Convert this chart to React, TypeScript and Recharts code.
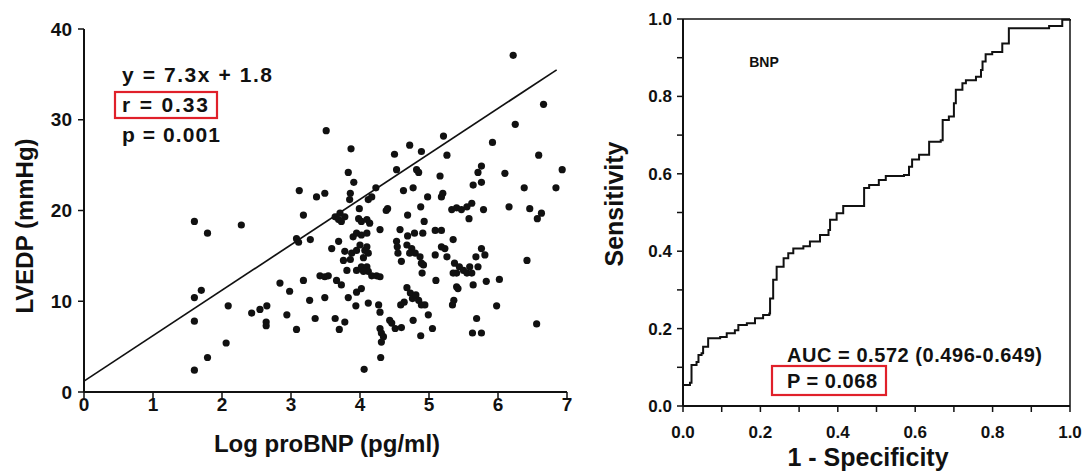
import {
  ScatterChart,
  Scatter,
  LineChart,
  Line,
  XAxis,
  YAxis,
  ReferenceLine,
} from 'recharts'

// Left panel: Log proBNP vs LVEDP (one entry per patient)
const LOG_PROBNP = [
  1.60, 1.79, 2.28, 1.70, 1.60, 2.09, 1.60, 2.06, 1.79, 1.60, 2.43, 2.55, 2.65, 2.64, 2.64,
  3.08, 3.11, 3.28, 3.12,
  3.59, 3.69, 3.78, 3.76, 3.88, 3.95, 4.00, 4.07, 4.12, 4.10, 3.81, 3.95, 4.02, 4.10, 4.12,
  4.05, 4.17, 4.24, 4.29, 3.42, 3.49, 3.54, 3.18, 3.66, 3.73, 2.84, 2.98, 3.95, 4.02, 3.83,
  3.27, 3.49, 3.94, 4.12, 4.27, 4.29, 2.94, 3.35, 3.64, 3.78, 3.70, 3.08, 4.29, 4.31, 4.34,
  4.31, 4.43, 4.51, 4.60, 4.46, 4.77, 4.30, 4.06, 3.86, 4.05,
  4.53, 4.54, 4.55, 4.60, 4.68, 4.75, 4.80, 4.72, 4.87, 4.89,
  4.68, 4.73, 4.76, 4.81, 4.59, 4.64, 4.85, 4.89, 4.94,
  6.22, 3.51, 6.66, 6.25, 5.21, 3.87, 4.72, 5.92, 4.89, 4.50, 5.26, 6.59, 4.53, 4.82, 4.85,
  3.83, 5.16, 5.76, 5.71, 6.10, 6.93, 3.91, 5.64, 5.76, 4.63, 4.77, 4.23, 6.38, 6.84, 3.37,
  3.49, 3.86, 3.85, 4.12, 4.17, 4.98, 5.18, 5.20, 4.40, 4.38, 3.99, 4.88, 4.69, 5.33, 5.40,
  5.47, 5.55, 5.62, 5.79, 6.16, 6.46, 6.63, 6.57, 5.58, 3.18, 3.64, 3.71, 3.69, 3.78, 3.73,
  3.98, 4.02, 4.10, 4.14, 4.29, 4.58, 4.69, 4.79, 4.93, 4.91, 5.09, 5.18, 5.35, 3.90, 3.95,
  4.02, 4.10,
  5.09, 5.18, 5.23, 5.26, 5.37, 5.44, 5.40, 5.50, 5.55, 5.59, 5.62, 5.71, 5.76, 5.81, 5.68,
  5.40, 6.42, 5.64, 5.83, 6.02, 5.10, 4.90, 5.36, 5.34, 5.42, 5.98, 4.99, 4.88, 5.05, 5.69,
  5.63, 5.76, 6.56, 5.35, 4.92,
]
const LVEDP = [
  18.8, 17.5, 18.4, 11.2, 10.4, 9.5, 7.8, 5.4, 3.8, 2.4, 8.7, 9.1, 9.5, 7.7, 7.3,
  16.9, 16.5, 16.8, 22.2,
  15.8, 16.6, 15.5, 14.5, 15.3, 15.6, 16.2, 15.6, 15.3, 16.0, 13.4, 13.4, 13.8, 13.8, 13.3,
  13.3, 12.8, 12.8, 12.7, 12.8, 12.7, 12.8, 12.3, 12.3, 11.8, 12.0, 11.1, 11.0, 11.4, 10.4,
  10.1, 10.4, 9.5, 9.8, 9.6, 8.8, 8.5, 8.1, 8.1, 7.7, 6.9, 6.9, 7.0, 6.5, 6.1,
  5.5, 7.9, 7.0, 7.1, 7.6, 7.9, 3.8, 2.5, 14.6, 14.8,
  16.6, 16.0, 15.3, 14.4, 16.2, 15.8, 15.3, 15.3, 14.9, 14.2,
  11.5, 10.9, 10.3, 10.7, 9.6, 9.9, 10.1, 9.6, 9.6,
  37.1, 28.8, 31.7, 29.5, 28.2, 26.8, 27.2, 27.5, 26.5, 26.2, 26.1, 26.1, 24.5, 24.5, 24.2,
  24.2, 23.8, 24.9, 24.2, 24.1, 24.5, 23.1, 22.8, 23.1, 22.2, 22.5, 22.5, 22.5, 22.5, 21.5,
  21.9, 21.9, 21.2, 21.2, 21.5, 21.5, 21.5, 21.9, 20.2, 20.0, 20.2, 20.4, 19.5, 20.1, 20.3,
  20.1, 20.4, 20.8, 20.1, 20.4, 20.2, 19.7, 19.1, 19.1, 19.5, 19.3, 19.7, 19.0, 19.3, 18.8,
  19.1, 18.8, 19.0, 18.6, 17.9, 17.9, 17.2, 17.5, 18.8, 17.5, 17.8, 17.8, 16.8, 17.1, 17.5,
  17.3, 17.5,
  15.1, 16.0, 15.8, 14.9, 14.2, 13.8, 13.1, 13.4, 13.1, 13.8, 13.1, 13.8, 15.8, 15.1, 14.9,
  11.6, 14.5, 11.8, 12.2, 12.4, 12.3, 13.1, 10.1, 9.6, 11.4, 9.5, 8.5, 6.2, 7.0, 8.1,
  6.5, 6.5, 7.5, 13.1, 14.0,
]

// Fitted line as drawn (end points)
const FIT_X = [0, 6.85]
const FIT_Y = [1.2, 35.5]

const X_TICKS = [0, 1, 2, 3, 4, 5, 6, 7]
const Y_TICKS = [0, 10, 20, 30, 40]

// Right panel: ROC curve for BNP
const FPR = [
  0, 0.018, 0.022, 0.035, 0.040, 0.048, 0.052, 0.065, 0.096, 0.113, 0.134, 0.143, 0.165, 0.186,
  0.207, 0.223, 0.225, 0.233, 0.233, 0.242, 0.258, 0.26, 0.272, 0.285, 0.311, 0.328, 0.354,
  0.376, 0.380, 0.397, 0.414, 0.465, 0.468, 0.481, 0.506, 0.524, 0.571, 0.584, 0.592, 0.610,
  0.636, 0.636, 0.666, 0.671, 0.687, 0.700, 0.705, 0.722, 0.731, 0.757, 0.770, 0.774, 0.782,
  0.799, 0.825, 0.842, 0.842, 0.928, 0.946, 0.980, 1.0,
]
const TPR = [
  0.054, 0.06, 0.106, 0.114, 0.132, 0.136, 0.153, 0.175, 0.178, 0.188, 0.196, 0.209, 0.214,
  0.227, 0.235, 0.239, 0.278, 0.291, 0.326, 0.360, 0.360, 0.382, 0.395, 0.407, 0.413, 0.425,
  0.442, 0.455, 0.481, 0.498, 0.517, 0.517, 0.563, 0.571, 0.584, 0.594, 0.597, 0.618, 0.637,
  0.649, 0.663, 0.683, 0.687, 0.739, 0.748, 0.782, 0.817, 0.834, 0.842, 0.851, 0.868, 0.890,
  0.909, 0.915, 0.937, 0.941, 0.976, 0.976, 0.982, 0.998, 1.0,
]
const ROC_TICKS = [0, 0.1, 0.2, 0.3, 0.4, 0.5, 0.6, 0.7, 0.8, 0.9, 1.0]

const FONT = '"Liberation Sans", Arial, sans-serif'
const INK = '#111'
const RED = '#e0202a'

const points = LOG_PROBNP.map((x, i) => ({ x, y: LVEDP[i] }))
const fitLine = FIT_X.map((x, i) => ({ x, y: FIT_Y[i] }))
const roc = FPR.map((fpr, i) => ({ fpr, tpr: TPR[i] }))

const Dot = (props: any) => <circle cx={props.cx} cy={props.cy} r={3.6} fill={INK} />
const NoDot = () => <g />

const evenTenths = (v: number) => (Math.round(v * 10) % 2 === 0 ? v.toFixed(1) : '')

export default function App() {
  const leftTick = { fill: INK, fontSize: 19, fontWeight: 'bold', fontFamily: FONT }
  const rightTick = { fill: INK, fontSize: 17, fontWeight: 'bold', fontFamily: FONT }

  return (
    <div style={{ position: 'absolute', left: 0, top: 0, width: 1083, height: 473, background: '#fff', fontFamily: FONT }}>
      <div style={{ position: 'absolute', left: 0, top: 0 }}>
        <ScatterChart width={600} height={473} margin={{ top: 29, right: 33, bottom: 21, left: 40 }}>
          <XAxis
            type="number"
            dataKey="x"
            domain={[0, 7]}
            ticks={X_TICKS}
            height={60}
            axisLine={{ stroke: INK, strokeWidth: 2 }}
            tickLine={{ stroke: INK, strokeWidth: 1.5 }}
            tickSize={6}
            tickMargin={0}
            tick={leftTick}
          />
          <YAxis
            type="number"
            dataKey="y"
            domain={[0, 40]}
            ticks={Y_TICKS}
            width={44}
            axisLine={{ stroke: INK, strokeWidth: 2 }}
            tickLine={{ stroke: INK, strokeWidth: 1.5 }}
            tickSize={6}
            tickMargin={6}
            tick={leftTick}
          />
          <Scatter data={points} shape={Dot} isAnimationActive={false} />
          <Scatter
            data={fitLine}
            shape={NoDot}
            line={{ stroke: INK, strokeWidth: 1.7 }}
            isAnimationActive={false}
          />
        </ScatterChart>
      </div>

      <div style={{ position: 'absolute', left: 580, top: 0 }}>
        <LineChart width={503} height={473} data={roc} margin={{ top: 19, right: 13, bottom: 27, left: 53 }}>
          <XAxis
            type="number"
            dataKey="fpr"
            domain={[0, 1]}
            ticks={ROC_TICKS}
            tickFormatter={evenTenths}
            height={40}
            axisLine={{ stroke: INK, strokeWidth: 2 }}
            tickLine={{ stroke: INK, strokeWidth: 1.5 }}
            tickSize={6}
            tickMargin={14}
            tick={rightTick}
          />
          <YAxis
            type="number"
            domain={[0, 1]}
            ticks={ROC_TICKS}
            tickFormatter={evenTenths}
            width={50}
            axisLine={{ stroke: INK, strokeWidth: 2 }}
            tickLine={{ stroke: INK, strokeWidth: 1.5 }}
            tickSize={6}
            tickMargin={5}
            tick={rightTick}
          />
          <ReferenceLine y={1} stroke={INK} strokeWidth={1.5} />
          <ReferenceLine x={1} stroke={INK} strokeWidth={1.5} />
          <Line
            type="stepAfter"
            dataKey="tpr"
            stroke={INK}
            strokeWidth={2}
            dot={false}
            isAnimationActive={false}
          />
        </LineChart>
      </div>

      {/* titles and annotations */}
      <svg width={1083} height={473} style={{ position: 'absolute', left: 0, top: 0, pointerEvents: 'none' }}>
        <g fontFamily={FONT} fontWeight="bold" fill={INK}>
          <text x={24} y={226} fontSize={24} textAnchor="middle" dominantBaseline="central" transform="rotate(-90 24 226)">
            LVEDP (mmHg)
          </text>
          <text x={327} y={443} fontSize={24} textAnchor="middle" dominantBaseline="central">
            Log proBNP (pg/ml)
          </text>
          <text x={122} y={82} fontSize={21} textLength={150} lengthAdjust="spacing">y = 7.3x + 1.8</text>
          <text x={122} y={112} fontSize={21} textLength={86} lengthAdjust="spacing">r = 0.33</text>
          <text x={122} y={142} fontSize={21} textLength={98} lengthAdjust="spacing">p = 0.001</text>

          <text x={614} y={204} fontSize={25} textAnchor="middle" dominantBaseline="central" transform="rotate(-90 614 204)">
            Sensitivity
          </text>
          <text x={868} y={466} fontSize={25} textAnchor="middle">1 - Specificity</text>
          <text x={764} y={62} fontSize={14} textAnchor="middle" dominantBaseline="central">BNP</text>
          <text x={787} y={362} fontSize={20} textLength={255} lengthAdjust="spacing">AUC = 0.572 (0.496-0.649)</text>
          <text x={787} y={388} fontSize={20} textLength={90} lengthAdjust="spacing">P = 0.068</text>
        </g>
        <rect x={115} y={92} width={102} height={26} fill="none" stroke={RED} strokeWidth={2.2} />
        <rect x={772} y={366} width={114} height={29} fill="none" stroke={RED} strokeWidth={2.2} />
      </svg>
    </div>
  )
}
